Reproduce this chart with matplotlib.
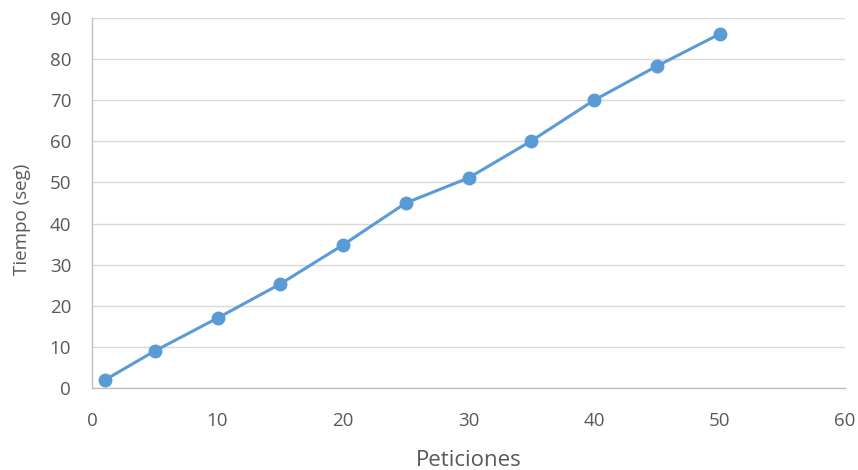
import matplotlib.pyplot as plt

# Peticiones vs tiempo de respuesta
peticiones = [1, 5, 10, 15, 20, 25, 30, 35, 40, 45, 50]
tiempo = [1.9, 9, 17, 25.3, 34.8, 45, 51.1, 60.1, 70, 78.3, 86.1]

x_ticks = [0, 10, 20, 30, 40, 50, 60]
y_ticks = [0, 10, 20, 30, 40, 50, 60, 70, 80, 90]

text_color = '#595959'
plt.rcParams['font.family'] = ['Open Sans', 'DejaVu Sans']

fig = plt.figure(figsize=(8.58, 4.70), dpi=100)
ax = fig.add_axes([0.1072, 0.1745, 0.8778, 0.7872])

ax.plot(peticiones, tiempo, color='#5B9BD5', linewidth=2.2,
        marker='o', markersize=9, zorder=3)

ax.set_xlim(0, 60)
ax.set_ylim(0, 90)
ax.set_xticks(x_ticks)
ax.set_yticks(y_ticks)

ax.grid(axis='y', color='#D9D9D9', linewidth=1)
ax.set_axisbelow(True)

for side in ['top', 'right']:
    ax.spines[side].set_visible(False)
for side in ['left', 'bottom']:
    ax.spines[side].set_color('#BFBFBF')
    ax.spines[side].set_linewidth(1)

ax.tick_params(axis='both', length=0, labelsize=13.5, labelcolor=text_color)
ax.tick_params(axis='x', pad=17)
ax.tick_params(axis='y', pad=15)

ax.set_xlabel('Peticiones', fontsize=16, color=text_color, va='center')
ax.set_ylabel('Tiempo (seg)', fontsize=13.5, color=text_color, va='center')
ax.xaxis.set_label_coords(0.5, -0.195)
ax.yaxis.set_label_coords(-0.093, 0.455)

fig.savefig('out.png', dpi=100)
